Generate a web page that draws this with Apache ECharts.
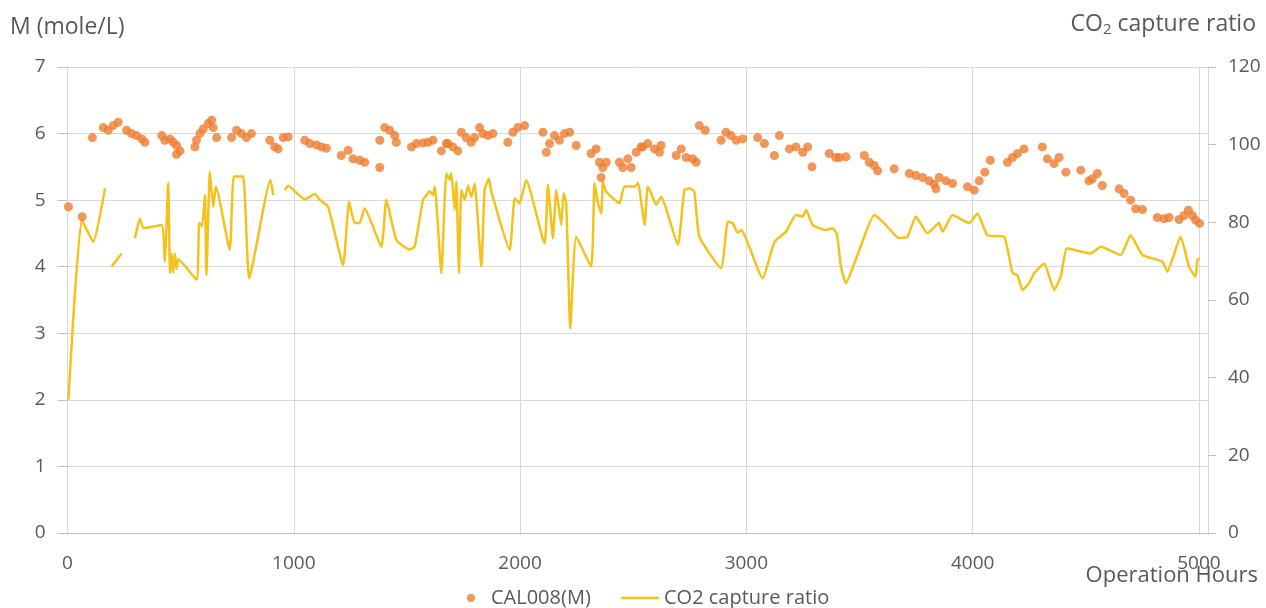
<!DOCTYPE html>
<html><head><meta charset="utf-8">
<script src="https://cdn.jsdelivr.net/npm/echarts@6/dist/echarts.min.js"></script>
<style>html,body{margin:0;padding:0;background:#fff}#c{width:1266px;height:608px}</style>
</head><body><div id="c"></div>
<script>
var xTicks = [0, 1000, 2000, 3000, 4000, 5000];
var calHours = [4,65,110,158,180,202,224,261,283,305,328,342,416,430,453,467,482,497,482,563,570,585,600,622,637,644,659,725,747,769,791,813,
894,916,931,953,975,1049,1071,1100,1122,1144,1210,1240,1262,1291,1313,1380,1380,1402,1424,1446,1453,1520,1542,1571,1593,1615,1652,1674,
1681,1703,1725,1740,1762,1784,1799,1821,1836,1858,1880,1946,1968,1990,2020,2101,2116,2130,2152,2174,2196,2219,2248,2314,2336,2351,2358,2366,2381,2439,2454,2476,2491,2513,2535,
2542,2564,2594,2623,2616,2690,2712,2734,2763,2778,2792,2818,2888,2910,2932,2955,2984,3050,3080,3124,3146,3190,3219,3249,3271,3290,3366,3395,
3411,3440,3521,3543,3565,3580,3653,3720,3749,3779,3808,3830,3838,3852,3882,3911,3977,4007,4029,4054,4078,4154,4176,4198,4227,
4308,4330,4360,4382,4412,4478,4514,4529,4551,4573,4647,4669,4698,4720,4750,4816,4846,4868,4912,4934,4953,4971,4985,5003];
var calM = [4.90,4.75,5.94,6.09,6.05,6.12,6.17,6.05,6.00,5.97,5.92,5.87,5.97,5.90,5.92,5.87,5.82,5.74,5.69,5.80,5.90,6.00,6.07,6.15,6.20,6.09,5.94,5.94,6.05,6.00,5.94,6.00,
5.90,5.80,5.77,5.94,5.95,5.90,5.85,5.83,5.80,5.78,5.67,5.75,5.62,5.60,5.57,5.49,5.90,6.09,6.05,5.97,5.87,5.80,5.85,5.86,5.87,5.90,5.74,5.85,
5.85,5.80,5.74,6.02,5.94,5.87,5.94,6.09,6.00,5.97,6.00,5.87,6.02,6.09,6.12,6.02,5.72,5.85,5.97,5.90,6.00,6.02,5.82,5.70,5.77,5.57,5.34,5.49,5.57,5.57,5.49,5.62,5.49,5.72,5.80,
5.80,5.85,5.77,5.82,5.72,5.67,5.77,5.64,5.62,5.57,6.12,6.05,5.90,6.02,5.97,5.90,5.92,5.94,5.85,5.67,5.97,5.77,5.80,5.72,5.80,5.50,5.70,5.64,
5.64,5.65,5.67,5.57,5.52,5.44,5.47,5.40,5.37,5.34,5.29,5.24,5.17,5.34,5.29,5.25,5.20,5.15,5.29,5.42,5.60,5.57,5.64,5.70,5.77,
5.80,5.62,5.55,5.64,5.42,5.45,5.29,5.32,5.40,5.22,5.17,5.10,5.00,4.87,4.86,4.74,4.72,4.74,4.71,4.77,4.85,4.77,4.70,4.65];
var ratioHours = [4,63,114,166,180,195,239,268,298,320,335,416,430,445,453,460,467,475,482,490,570,582,595,607,614,629,644,656,717,735,776,803,897,909,935,
960,975,1049,1093,1115,1152,1218,1244,1269,1291,1313,1387,1409,1453,1512,1534,1571,1586,1600,1615,1623,1652,1674,1689,1696,1711,1718,1730,1740,1755,1770,1785,1799,1829,1843,1862,1873,
1954,1976,1998,2027,2108,2123,2145,2160,2182,2192,2204,2222,2248,2314,2329,2344,2359,2366,2381,2439,2461,2506,2521,2550,2564,2579,2601,2623,2697,2726,2748,2770,2792,
2888,2918,2940,2962,2977,3072,3124,3175,3219,3249,3264,3293,3352,3381,3400,3418,3440,3491,3565,3609,3675,3712,3749,3800,3852,3867,3911,3985,4021,4065,4139,
4176,4198,4220,4249,4272,4316,4360,4389,4418,4522,4566,4654,4698,4750,4838,4860,4919,4956,4985,4993,5003];
var ratioValues = [34.3,80.6,75,88.8,null,68.6,72,null,75.9,81,78.5,79.3,69.9,90.1,67,72,67,72,68,70.5,65.2,79.8,79,87,66.4,93,84,89.2,72.9,91.8,91.8,65.6,90.9,87,null,
88.3,89.4,85.9,87.3,85.8,84,69,85.3,79.8,79.8,83.6,73.7,85.8,75.5,73,73.7,85.8,87,88,87,89.2,66.9,92.6,91,92.7,83.2,90.5,66.9,88.3,85.8,89.5,86.5,90,68.6,88.3,91.3,87.9,
72.9,86.2,84.9,90.9,74.6,89.6,75.9,88.3,79.3,87.5,84.9,52.7,76.3,68.6,90.1,85,82.3,90.5,87.9,84.9,89.2,89.2,90.1,79.3,89.2,87.5,84.5,86.6,74.2,88.3,88.8,87.9,76.3,
68.2,80.2,79.8,77.3,78,65.6,75,77.6,81.9,81.5,83.2,79.3,78,78.5,77,68.6,64.3,71.6,81.9,79.8,75.9,76.3,81.5,77.2,79.8,77.6,81.9,79.8,82.3,76.7,76.3,
66.9,66.4,62.6,64.3,66.9,69.4,62.6,66,73.3,72,73.7,71.6,76.7,71.6,69.9,67.3,76.3,68.6,66,70.3,70.7];

var calData = calHours.map(function(h,i){return [h, calM[i]];});
var ratioData = ratioHours.map(function(h,i){return [h, ratioValues[i] === null ? '-' : ratioValues[i]];});

var FONT = 'Open Sans';
var GRAY = '#595959';
var chart = echarts.init(document.getElementById('c'));
chart.setOption({
  animation: false,
  backgroundColor: '#fff',
  grid: {left: 67.5, right: 58, top: 67, bottom: 75, containLabel: false},
  xAxis: {
    type: 'value', min: 0, max: 5040, interval: 1000,
    axisLine: {show: true, lineStyle: {color: '#BFBFBF', width: 1}},
    axisTick: {show: false},
    axisLabel: {color: GRAY, fontFamily: FONT, fontSize: 19, margin: 21, showMaxLabel: false,
      formatter: function(v){ return xTicks.indexOf(v) >= 0 ? String(v) : ''; }},
    splitLine: {show: true, lineStyle: {color: '#D9D9D9', width: 1}}
  },
  yAxis: [{
    type: 'value', min: 0, max: 7, interval: 1, position: 'left',
    axisLine: {show: true, lineStyle: {color: '#D9D9D9'}},
    axisTick: {show: true, inside: false, length: 10, lineStyle: {color: '#BFBFBF'}},
    axisLabel: {color: GRAY, fontFamily: FONT, fontSize: 19, margin: 22},
    splitLine: {show: true, lineStyle: {color: '#D9D9D9', width: 1}}
  }, {
    type: 'value', min: 0, max: 120, interval: 20, position: 'right',
    axisLine: {show: true, lineStyle: {color: '#D9D9D9'}},
    axisTick: {show: true, inside: false, length: 8, lineStyle: {color: '#BFBFBF'}},
    axisLabel: {color: GRAY, fontFamily: FONT, fontSize: 19, margin: 20},
    splitLine: {show: false}
  }],
  legend: [{
    left: 462, top: 583, itemWidth: 30, itemHeight: 8,
    textStyle: {color: GRAY, fontFamily: FONT, fontSize: 20},
    data: [{name: 'CAL008(M)', icon: 'circle'}]
  }, {
    left: 616, top: 583, itemWidth: 38, itemHeight: 2.5,
    textStyle: {color: GRAY, fontFamily: FONT, fontSize: 20},
    data: [{name: 'CO2 capture ratio', icon: 'rect'}]
  }],
  graphic: [
    {type: 'text', left: 10, top: 16, style: {text: 'M (mole/L)', fill: GRAY, font: '23px "Open Sans"'}},
    {type: 'text', right: 10, top: 13, style: {
      text: '{a|CO}{s|2}{a| capture ratio}',
      rich: {a: {fill: GRAY, fontFamily: FONT, fontSize: 23}, s: {fill: GRAY, fontFamily: FONT, fontSize: 15, padding: [10,0,0,0]}}
    }},
    {type: 'text', right: 8, top: 565, style: {text: 'Operation Hours', fill: GRAY, font: '22px "Open Sans"'}}
  ],
  series: [{
    name: 'CAL008(M)', type: 'scatter', yAxisIndex: 0, data: calData,
    symbol: 'circle', symbolSize: 9, itemStyle: {color: '#ED7D31'}, z: 3
  }, {
    name: 'CO2 capture ratio', type: 'line', yAxisIndex: 1, data: ratioData,
    showSymbol: false, symbol: 'none', smooth: 0.15, connectNulls: false,
    lineStyle: {color: '#F5C21B', width: 2.5}, itemStyle: {color: '#F5C21B'}, z: 2
  }]
});
</script>
</body></html>
